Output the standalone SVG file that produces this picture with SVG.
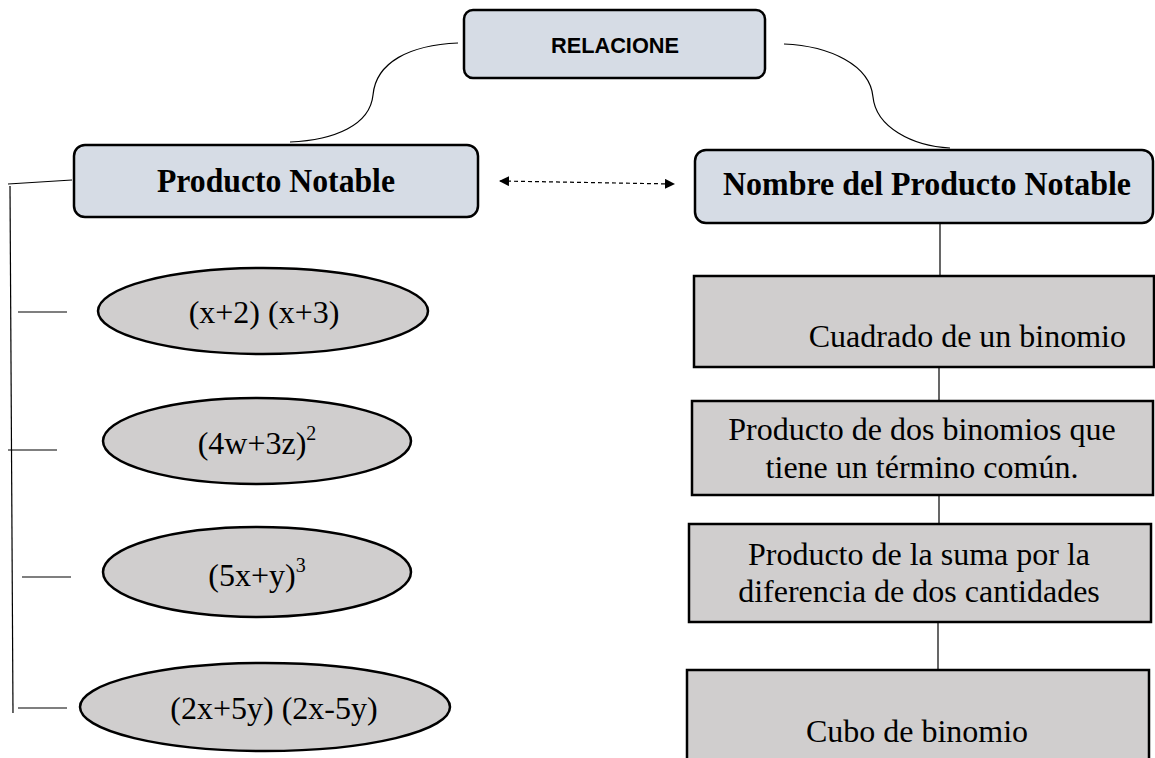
<svg xmlns="http://www.w3.org/2000/svg" width="1155" height="758" viewBox="0 0 1155 758">
<defs>
<marker id="ah" viewBox="0 0 10 10" refX="9" refY="5" markerWidth="10" markerHeight="10" markerUnits="userSpaceOnUse" orient="auto-start-reverse"><path d="M0,0 L10,5 L0,10 Z" fill="#000"/></marker>
<style>
.hd{fill:#d6dce5;stroke:#000;stroke-width:2.5}
.gr{fill:#d0cece;stroke:#000;stroke-width:2.5}
.ln{fill:none;stroke:#000;stroke-width:1.2}
.t{font-family:"Liberation Serif","Times New Roman",serif;fill:#000;font-size:32px}
.b{font-weight:bold;font-size:34px}
.s{font-family:"Liberation Sans",Arial,sans-serif;font-weight:bold;fill:#000}
.sup{font-size:20px}
</style>
</defs>
<rect width="1155" height="758" fill="#fff"/>
<g id="connectors">
<path class="ln" d="M458,43 C410,45 376,62 373,95 C370,125 335,140 290,142"/>
<path class="ln" d="M784,44 C830,46 870,65 873,97 C876,127 912,146 950,148"/>
<line x1="500" y1="181" x2="674" y2="184" stroke="#000" stroke-width="1.2" stroke-dasharray="4,3" marker-start="url(#ah)" marker-end="url(#ah)"/>
<line class="ln" x1="8" y1="184" x2="72" y2="180"/>
<line class="ln" x1="10" y1="186" x2="13" y2="713"/>
<line class="ln" x1="18" y1="312" x2="67" y2="312"/>
<line class="ln" x1="8" y1="450" x2="57" y2="450"/>
<line class="ln" x1="22" y1="577" x2="71" y2="577"/>
<line class="ln" x1="18" y1="708" x2="67" y2="708"/>
<line class="ln" x1="940" y1="224" x2="940" y2="276"/>
<line class="ln" x1="939" y1="367" x2="939" y2="401"/>
<line class="ln" x1="939" y1="495" x2="939" y2="524"/>
<line class="ln" x1="938" y1="622" x2="938" y2="670"/>
</g>
<g id="relacione">
<rect class="hd" x="464" y="10" width="301" height="68" rx="9"/>
<text class="s" x="615" y="53" font-size="22" text-anchor="middle" textLength="128" lengthAdjust="spacingAndGlyphs">RELACIONE</text>
</g>
<g id="producto-notable">
<rect class="hd" x="74" y="145" width="404" height="72" rx="11"/>
<text class="t b" x="276" y="192" text-anchor="middle" textLength="238" lengthAdjust="spacingAndGlyphs">Producto Notable</text>
</g>
<g id="nombre">
<rect class="hd" x="695" y="150" width="458" height="73" rx="11"/>
<text class="t b" x="927" y="195" text-anchor="middle" textLength="408" lengthAdjust="spacingAndGlyphs">Nombre del Producto Notable</text>
</g>
<g id="e1">
<ellipse class="gr" cx="263" cy="311" rx="165" ry="43"/>
<text class="t" x="264" y="323" text-anchor="middle">(x+2) (x+3)</text>
</g>
<g id="e2">
<ellipse class="gr" cx="257" cy="441" rx="154" ry="43"/>
<text class="t" x="257" y="454" text-anchor="middle">(4w+3z)<tspan class="sup" dy="-14">2</tspan></text>
</g>
<g id="e3">
<ellipse class="gr" cx="257" cy="572" rx="154" ry="45"/>
<text class="t" x="257" y="586" text-anchor="middle">(5x+y)<tspan class="sup" dy="-14">3</tspan></text>
</g>
<g id="e4">
<ellipse class="gr" cx="265" cy="707" rx="185" ry="44"/>
<text class="t" x="274" y="719" text-anchor="middle">(2x+5y) (2x-5y)</text>
</g>
<g id="r1">
<rect class="gr" x="694" y="276" width="460" height="91"/>
<text class="t" x="1126" y="347" text-anchor="end">Cuadrado de un binomio</text>
</g>
<g id="r2">
<rect class="gr" x="692" y="401" width="461" height="94"/>
<text class="t" x="922" y="440" text-anchor="middle">Producto de dos binomios que</text>
<text class="t" x="922" y="478" text-anchor="middle">tiene un término común.</text>
</g>
<g id="r3">
<rect class="gr" x="689" y="524" width="462" height="98"/>
<text class="t" x="919" y="565" text-anchor="middle">Producto de la suma por la</text>
<text class="t" x="919" y="602" text-anchor="middle">diferencia de dos cantidades</text>
</g>
<g id="r4">
<rect class="gr" x="687" y="670" width="462" height="100"/>
<text class="t" x="917" y="742" text-anchor="middle">Cubo de binomio</text>
</g>
</svg>
